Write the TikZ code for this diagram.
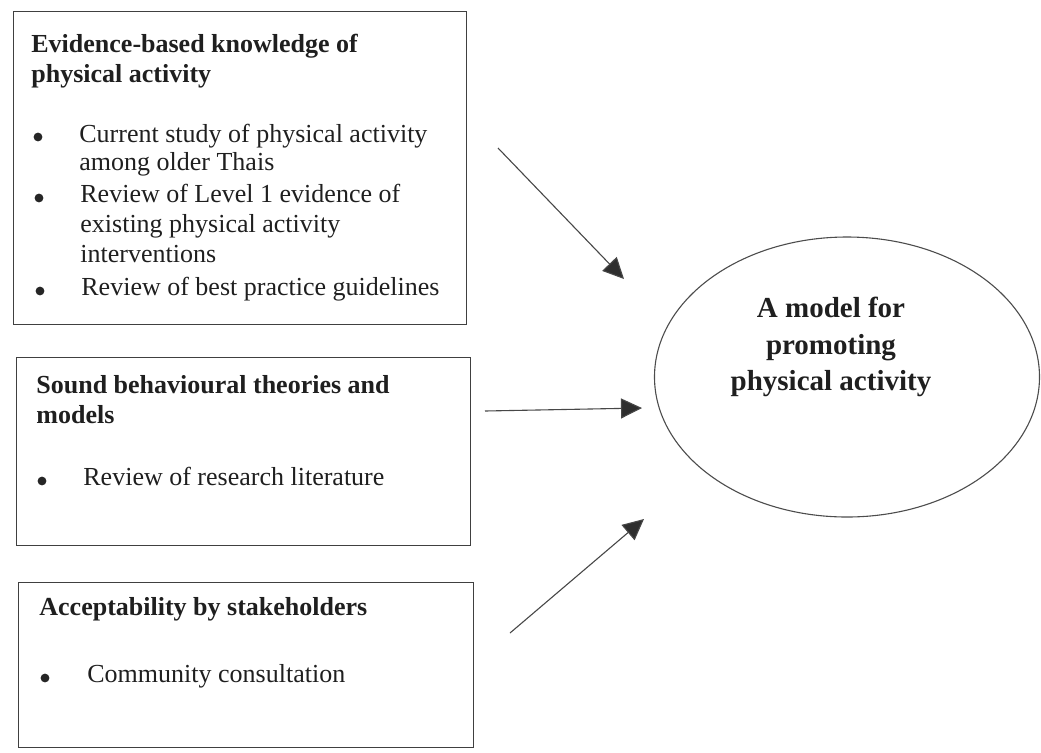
\documentclass[tikz,border=0pt]{standalone}
\usepackage{fontspec}
\setmainfont{Liberation Serif}
\usetikzlibrary{arrows.meta,shapes.geometric}
\begin{document}
\begin{tikzpicture}[x=0.5pt,y=-0.5pt,
  panel/.style={draw=black!75,line width=0.7pt,anchor=north west,inner sep=0pt},
  head/.style={anchor=base west,inner sep=0pt,font=\fontsize{13}{15}\selectfont\bfseries,text=black!88},
  item/.style={anchor=base west,inner sep=0pt,font=\fontsize{13}{15}\selectfont,text=black!88,align=left},
  dot/.style={circle,fill=black!85,inner sep=0pt,minimum size=4.4pt},
  feed/.style={draw=black!72,line width=0.55pt,-{Triangle[length=10.5pt,width=10pt,fill=black!82]}}
]
\useasboundingbox (0,0) rectangle (1041,752);

% source panels
\node[panel,minimum width=226.5pt,minimum height=156.5pt] (evid) at (13,11) {};
\node[panel,minimum width=227pt,minimum height=94pt] (theo) at (16,357) {};
\node[panel,minimum width=227.5pt,minimum height=82.5pt] (acc) at (18,582) {};

% panel 1
\node[head] (evidh1) at (31,52) {Evidence-based knowledge of};
\node[head] (evidh2) at (31,82) {physical activity};
\node[dot] (evidd1) at (38,137) {};
\node[item] (evidi1) at (79,142) {Current study of physical activity};
\node[item] (evidi1b) at (79,170) {among older Thais};
\node[dot] (evidd2) at (39,198) {};
\node[item] (evidi2) at (80,202) {Review of Level 1 evidence of};
\node[item] (evidi2b) at (80,232) {existing physical activity};
\node[item] (evidi2c) at (80,262) {interventions};
\node[dot] (evidd3) at (40,291) {};
\node[item] (evidi3) at (81,295) {Review of best practice guidelines};

% panel 2
\node[head] (theoh1) at (36,393) {Sound behavioural theories and};
\node[head] (theoh2) at (36,423) {models};
\node[dot] (theod1) at (42,481) {};
\node[item] (theoi1) at (83,485) {Review of research literature};

% panel 3
\node[head] (acch1) at (39,615) {Acceptability by stakeholders};
\node[dot] (accd1) at (45,678) {};
\node[item] (acci1) at (87,682) {Community consultation};

% target
\node[ellipse,draw=black!70,line width=0.55pt,minimum width=192.5pt,minimum height=140pt,inner sep=0pt] (model) at (847,377) {};
\node[align=center,inner sep=0pt,font=\fontsize{14.5}{18.3}\selectfont\bfseries,text=black!88] (modelt) at (831,347) {A model for\\promoting\\physical activity};

% connectors
\coordinate (s1) at (498,148);
\coordinate (t1) at (624,279);
\coordinate (s2) at (485,411);
\coordinate (t2) at (642,408);
\coordinate (s3) at (510,633);
\coordinate (t3) at (644,519);
\draw[feed] (s1) -- (t1);
\draw[feed] (s2) -- (t2);
\draw[feed] (s3) -- (t3);
\end{tikzpicture}
\end{document}
